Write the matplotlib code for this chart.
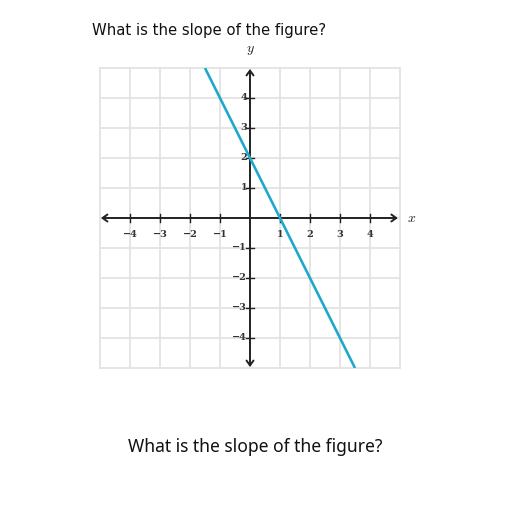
import numpy as np
import matplotlib.pyplot as plt

# datos de la figura
titulo = "What is the slope of the figure?"
ticks = [-4, -3, -2, -1, 1, 2, 3, 4]
grid_vals = [-5, -4, -3, -2, -1, 0, 1, 2, 3, 4, 5]
linea_x = [-1.5, 3.5]
linea_y = [5, -5]

plt.rcParams['mathtext.fontset'] = 'cm'

fig = plt.figure(figsize=(5.12, 5.12), dpi=100)
fig.text(209 / 512, 1 - 31 / 512, titulo, ha='center', va='center',
         fontsize=10.7, family='DejaVu Sans', color='#111111')
fig.text(255 / 512, 1 - 447 / 512, titulo, ha='center', va='center',
         fontsize=12.6, family='Noto Sans', color='#111111')

ax = fig.add_axes([100 / 512, 1 - 368 / 512, 300 / 512, 300 / 512])
ax.set_xlim(-5, 5)
ax.set_ylim(-5, 5)
ax.axis('off')

# cuadricula
for g in grid_vals:
    ax.plot([g, g], [-5, 5], color='#e3e3e3', lw=1.3, zorder=1, clip_on=False)
    ax.plot([-5, 5], [g, g], color='#e3e3e3', lw=1.3, zorder=1, clip_on=False)

# ejes con flechas
flecha = dict(arrowstyle='<->,head_length=0.35,head_width=0.25', color='#222222', lw=1.4,
              shrinkA=0, shrinkB=0)
ax.annotate('', xy=(-4.97, 0), xytext=(4.93, 0), arrowprops=flecha, zorder=3)
ax.annotate('', xy=(0, -4.97), xytext=(0, 4.97), arrowprops=flecha, zorder=3)

# marcas y etiquetas
for t in ticks:
    etiqueta = str(t).replace('-', '\u2212')
    ax.plot([t, t], [-0.13, 0.13], color='#222222', lw=1.0, zorder=3)
    ax.plot([-0.13, 0.13], [t, t], color='#222222', lw=1.0, zorder=3)
    ax.text(t, -0.55, etiqueta, ha='center', va='center', fontsize=7,
            family='DejaVu Serif', weight='bold', color='#333333')
    ax.text(-0.1, t, etiqueta, ha='right', va='center', fontsize=7,
            family='DejaVu Serif', weight='bold', color='#333333')

ax.text(5.4, 0, '$x$', ha='center', va='center', fontsize=10, color='#222222')
ax.text(0, 5.6, '$y$', ha='center', va='center', fontsize=10, color='#222222')

# recta
ax.plot(linea_x, linea_y, color='#1fa8c9', lw=1.9, zorder=4, solid_capstyle='butt')

fig.savefig('out.png', dpi=100)
